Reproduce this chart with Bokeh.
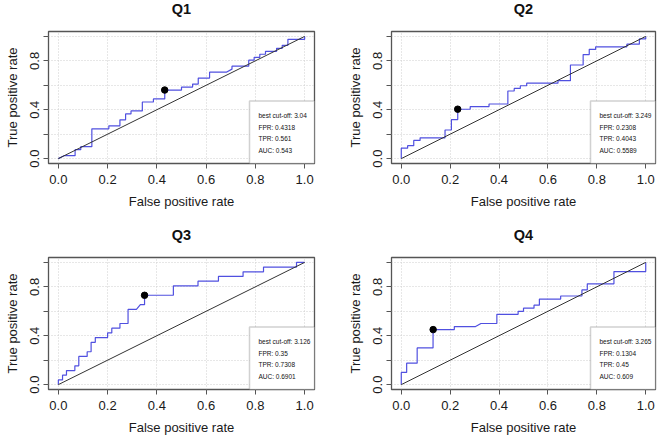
from bokeh.plotting import figure
from bokeh.layouts import gridplot
from bokeh.models import Range1d, FixedTicker, PrintfTickFormatter, BoxAnnotation, Label, Title
from bokeh.embed import file_html
from bokeh.resources import INLINE

titles = ["Q1", "Q2", "Q3", "Q4"]

q1_fpr = [0.0, 0.023, 0.068, 0.068, 0.091, 0.091, 0.136, 0.136, 0.205, 0.205, 0.250, 0.250,
          0.273, 0.273, 0.295, 0.295, 0.341, 0.341, 0.386, 0.386, 0.432, 0.432, 0.500, 0.500,
          0.545, 0.545, 0.568, 0.568, 0.614, 0.614, 0.682, 0.705, 0.705, 0.773, 0.773, 0.795,
          0.795, 0.818, 0.818, 0.841, 0.841, 0.886, 0.886, 0.909, 0.909, 0.932, 0.932, 1.0, 1.0]
q1_tpr = [0.0, 0.024, 0.024, 0.073, 0.073, 0.098, 0.098, 0.244, 0.244, 0.268, 0.268, 0.317,
          0.317, 0.366, 0.366, 0.390, 0.390, 0.463, 0.463, 0.488, 0.488, 0.561, 0.561, 0.585,
          0.585, 0.610, 0.610, 0.659, 0.659, 0.707, 0.707, 0.732, 0.756, 0.756, 0.805, 0.805,
          0.829, 0.829, 0.854, 0.854, 0.878, 0.878, 0.902, 0.902, 0.927, 0.927, 0.976, 0.976, 1.0]

q2_fpr = [0.0, 0.0, 0.026, 0.026, 0.051, 0.051, 0.077, 0.077, 0.179, 0.179, 0.205, 0.205,
          0.231, 0.231, 0.282, 0.282, 0.359, 0.359, 0.436, 0.436, 0.462, 0.462, 0.487, 0.487,
          0.513, 0.513, 0.641, 0.641, 0.692, 0.692, 0.744, 0.744, 0.769, 0.769, 0.795, 0.795,
          0.923, 0.923, 0.974, 0.974, 1.0, 1.0]
q2_tpr = [0.0, 0.085, 0.085, 0.106, 0.106, 0.149, 0.149, 0.170, 0.170, 0.234, 0.234, 0.319,
          0.319, 0.404, 0.404, 0.426, 0.426, 0.447, 0.447, 0.553, 0.553, 0.574, 0.574, 0.596,
          0.596, 0.617, 0.617, 0.638, 0.638, 0.766, 0.766, 0.851, 0.851, 0.894, 0.894, 0.915,
          0.915, 0.936, 0.936, 0.979, 0.979, 1.0]

q3_fpr = [0.0, 0.0, 0.017, 0.017, 0.033, 0.033, 0.067, 0.067, 0.083, 0.083, 0.117, 0.117,
          0.133, 0.133, 0.150, 0.150, 0.200, 0.200, 0.217, 0.217, 0.250, 0.250, 0.283, 0.283,
          0.317, 0.333, 0.350, 0.350, 0.467, 0.467, 0.567, 0.567, 0.650, 0.650, 0.750, 0.750,
          0.833, 0.833, 0.967, 0.967, 1.0]
q3_tpr = [0.0, 0.038, 0.038, 0.077, 0.077, 0.115, 0.115, 0.154, 0.154, 0.231, 0.231, 0.269,
          0.269, 0.346, 0.346, 0.385, 0.385, 0.423, 0.423, 0.462, 0.462, 0.500, 0.500, 0.615,
          0.615, 0.654, 0.654, 0.731, 0.731, 0.808, 0.808, 0.846, 0.846, 0.885, 0.885, 0.923,
          0.923, 0.962, 0.962, 1.0, 1.0]

q4_fpr = [0.0, 0.0, 0.022, 0.022, 0.065, 0.065, 0.130, 0.130, 0.217, 0.217, 0.304, 0.326,
          0.391, 0.391, 0.478, 0.478, 0.500, 0.500, 0.543, 0.543, 0.565, 0.565, 0.652, 0.652,
          0.739, 0.739, 0.761, 0.761, 0.870, 0.870, 1.0, 1.0]
q4_tpr = [0.0, 0.100, 0.100, 0.175, 0.175, 0.300, 0.300, 0.450, 0.450, 0.475, 0.475, 0.500,
          0.500, 0.575, 0.575, 0.600, 0.600, 0.625, 0.625, 0.650, 0.650, 0.700, 0.700, 0.725,
          0.725, 0.775, 0.775, 0.825, 0.825, 0.925, 0.925, 1.0]

diag = [0.0, 1.0]
best_fpr = [0.4318, 0.2308, 0.35, 0.1304]
best_tpr = [0.561, 0.4043, 0.7308, 0.45]
legend_lines = [
    ["best cut-off:  3.04", "FPR: 0.4318", "TPR: 0.561", "AUC: 0.543"],
    ["best cut-off: 3.249", "FPR: 0.2308", "TPR: 0.4043", "AUC: 0.5589"],
    ["best cut-off: 3.126", "FPR:  0.35", "TPR: 0.7308", "AUC: 0.6901"],
    ["best cut-off: 3.265", "FPR: 0.1304", "TPR:  0.45", "AUC: 0.609"],
]
tick_values = [0.0, 0.2, 0.4, 0.6, 0.8, 1.0]
curves = [(q1_fpr, q1_tpr), (q2_fpr, q2_tpr), (q3_fpr, q3_tpr), (q4_fpr, q4_tpr)]

FONT = "Liberation Sans"
# (left, right, top, bottom, frame w, frame h, gap between title and frame)
layout = [(48, 16, 31, 56, 266, 132, 10), (61, 5, 31, 56, 264, 132, 10),
          (48, 16, 38, 49, 266, 132, 10), (61, 5, 38, 49, 264, 132, 10)]

figs = []
for i in range(4):
    L, R, T, B, fw, fh, gap = layout[i]
    p = figure(frame_width=fw, frame_height=fh, output_backend="svg", toolbar_location=None,
               x_range=Range1d(-0.04, 1.04), y_range=Range1d(-0.04, 1.04),
               min_border_left=L, min_border_right=R, min_border_top=T, min_border_bottom=B)
    # spacer (closest to the frame), then the title above it
    p.add_layout(Title(text=" ", text_font_size="1px", standoff=gap), "above")
    p.add_layout(Title(text=titles[i], align="center", vertical_align="top", standoff=0,
                       text_font=FONT, text_font_size="14.5px", text_font_style="bold",
                       text_color="#111111"), "above")
    p.outline_line_color = "#555555"
    p.outline_line_width = 1.3
    p.background_fill_color = "white"
    p.border_fill_color = "white"

    for ax in (p.xaxis[0], p.yaxis[0]):
        ax.ticker = FixedTicker(ticks=tick_values)
        ax.axis_line_color = None
        ax.major_tick_in = 0
        ax.major_tick_out = 5
        ax.major_tick_line_color = "#555555"
        ax.minor_tick_line_color = None
        ax.major_label_text_font = FONT
        ax.major_label_text_font_size = "13px"
        ax.major_label_text_color = "#1a1a1a"
        ax.axis_label_text_font = FONT
        ax.axis_label_text_font_size = "13px"
        ax.axis_label_text_font_style = "normal"
        ax.axis_label_text_color = "#1a1a1a"
        ax.formatter = PrintfTickFormatter(format="%.1f")
    p.xaxis.axis_label = "False positive rate"
    p.yaxis.axis_label = "True positive rate"
    p.xaxis.major_label_standoff = 6
    p.xaxis.axis_label_standoff = 7
    p.yaxis.major_label_standoff = 4
    p.yaxis.axis_label_standoff = 8
    p.yaxis.major_label_orientation = "vertical"
    p.yaxis.major_label_overrides = {0.2: "", 0.6: "", 1.0: ""}

    for g in (p.xgrid[0], p.ygrid[0]):
        g.ticker = FixedTicker(ticks=tick_values)
        g.grid_line_color = "#cfcfcf"
        g.grid_line_dash = "1 2"
        g.grid_line_width = 1

    fx, fy = curves[i]
    p.line(fx, fy, line_color="#5050e0", line_width=1.2)
    p.line(diag, diag, line_color="#333333", line_width=1)
    p.scatter([best_fpr[i]], [best_tpr[i]], size=6.5, color="black")

    box_w, box_h = 65, 62.5
    box = BoxAnnotation(left=1.04 - box_w * 1.08 / fw, right=1.04,
                        bottom=-0.04, top=-0.04 + box_h * 1.08 / fh,
                        fill_color="white", fill_alpha=1.0,
                        line_color="#666666", line_width=1.5)
    p.add_layout(box)
    offs = [14, 26, 37.5, 49]
    for j, txt in enumerate(legend_lines[i]):
        p.add_layout(Label(x=1.04, y=-0.04, x_offset=-(box_w - 9), y_offset=box_h - offs[j],
                           text=txt, text_font=FONT, text_font_size="6.5px",
                           text_color="#111111", text_baseline="middle", text_align="left"))
    figs.append(p)

grid = gridplot([[figs[0], figs[1]], [figs[2], figs[3]]], toolbar_location=None)
open("out.html", "w").write(file_html(grid, INLINE))
